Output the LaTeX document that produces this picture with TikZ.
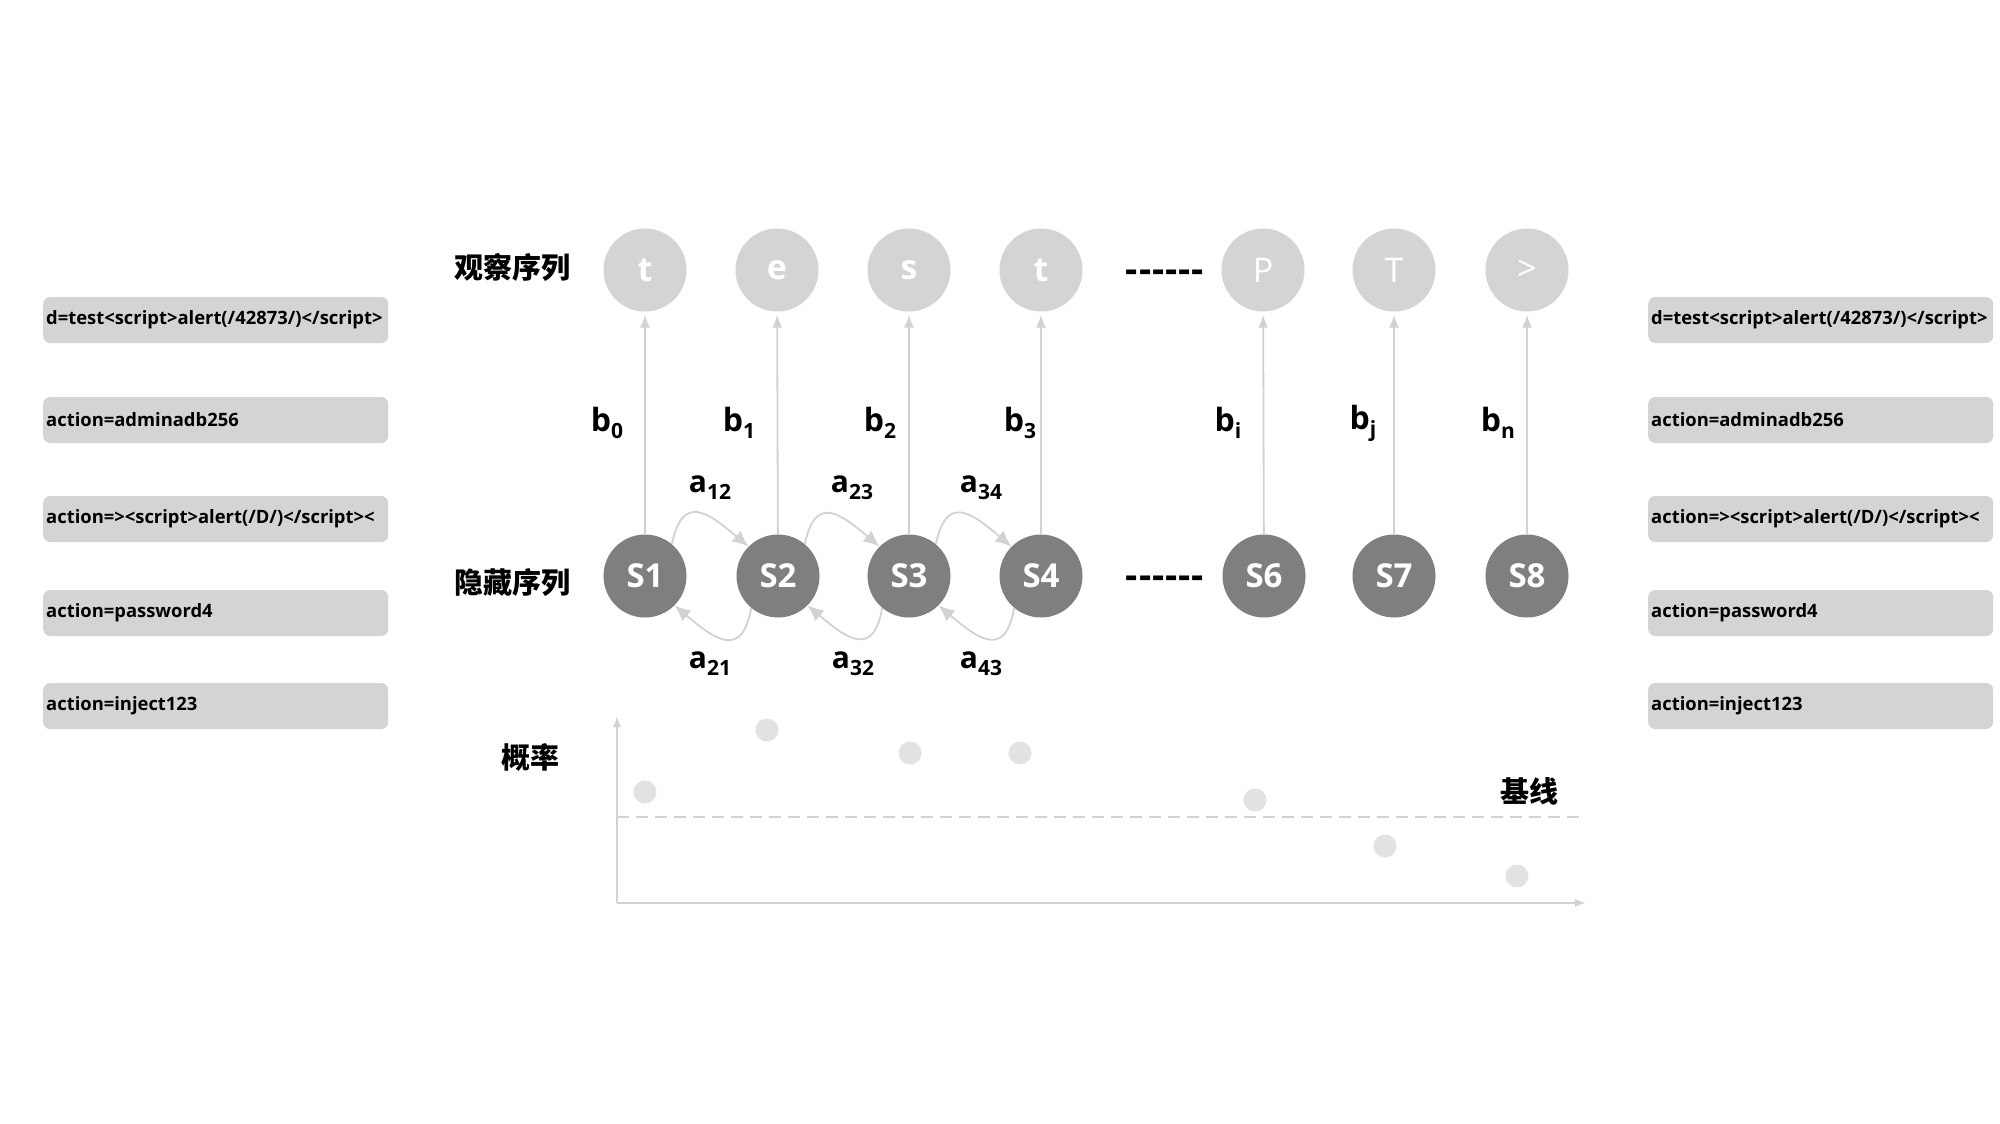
\documentclass[tikz,border=0pt]{standalone}
\usepackage{fontspec}
\setmainfont{Open Sans}
\newfontfamily\cjk{Noto Sans CJK SC}
\usetikzlibrary{arrows.meta}
\definecolor{obsc}{HTML}{D4D4D4}
\definecolor{hidc}{HTML}{7F7F7F}
\definecolor{linec}{HTML}{D2D2D2}
\definecolor{dotc}{HTML}{E2E2E2}
\definecolor{boxc}{HTML}{D4D4D4}
\newcommand\sbs[1]{\raisebox{-7pt}{\fontsize{21}{21}\selectfont #1}}
\newcommand\dsh{-\kern1pt-\kern1pt-\kern1pt-\kern1pt-\kern1pt-}
\begin{document}
\begin{tikzpicture}[x=1pt,y=-1pt,
  obsnode/.style={circle,fill=obsc,minimum size=83pt,inner sep=0pt,text=white,font=\fontsize{34}{34}\selectfont},
  hidnode/.style={circle,fill=hidc,minimum size=83pt,inner sep=0pt,text=white,font=\fontsize{33}{33}\selectfont\bfseries},
  varr/.style={draw=linec,line width=1.8pt,-{Latex[length=13pt,width=10pt]},shorten >=3pt},
  carr/.style={draw=linec,line width=1.8pt,-{Latex[length=16pt,width=14pt]}},
  cjklab/.style={font=\cjk\bfseries\fontsize{29}{29}\selectfont},
  blab/.style={font=\bfseries\fontsize{32}{32}\selectfont},
  alab/.style={font=\bfseries\fontsize{30}{30}\selectfont},
  pbox/.style={rectangle,rounded corners=7pt,fill=boxc,minimum width=345pt,minimum height=46pt,
    text width=339pt,align=left,inner xsep=3pt,anchor=west,font=\bfseries\fontsize{18.4}{18.4}\selectfont},
  pdot/.style={circle,fill=dotc,minimum size=23pt,inner sep=0pt},
  dashlab/.style={font=\bfseries\fontsize{38}{38}\selectfont}
]
\useasboundingbox[fill=white] (0,0) rectangle (2000,1124);

% observation nodes
\node[obsnode] (o1) at (645,270) {\bfseries t};
\node[obsnode] (o2) at (777,270) {\bfseries e};
\node[obsnode] (o3) at (909,270) {\bfseries s};
\node[obsnode] (o4) at (1041,270) {\bfseries t};
\node[obsnode] (o6) at (1263,270) {P};
\node[obsnode] (o7) at (1394,270) {T};
\node[obsnode] (o8) at (1527,270) {>};

% hidden nodes
\node[hidnode] (s1) at (645,576) {S1};
\node[hidnode] (s2) at (778,576) {S2};
\node[hidnode] (s3) at (909,576) {S3};
\node[hidnode] (s4) at (1041,576) {S4};
\node[hidnode] (s6) at (1264,576) {S6};
\node[hidnode] (s7) at (1394,576) {S7};
\node[hidnode] (s8) at (1527,576) {S8};

% row labels
\node[cjklab] (lobs) at (512,267) {观察序列};
\node[cjklab] (lhid) at (512,582) {隐藏序列};
\node[cjklab] (lprob) at (530,757) {概率};
\node[cjklab] (lbase) at (1529,791) {基线};

% dashes
\node[dashlab] (d1) at (1165,276) {\dsh};
\node[dashlab] (d2) at (1165,582) {\dsh};

% emission arrows
\foreach \i in {1,2,3,4,6,7,8} {\draw[varr] (s\i) -- (o\i);}

% b labels
\node[blab] (b0) at (607,423) {b\sbs{0}};
\node[blab] (b1) at (739,423) {b\sbs{1}};
\node[blab] (b2) at (880,423) {b\sbs{2}};
\node[blab] (b3) at (1020,423) {b\sbs{3}};
\node[blab] (bi) at (1228,423) {b\sbs{i}};
\node[blab] (bj) at (1363,423) {b\sbs{j}};
\node[blab] (bn) at (1498,423) {b\sbs{n}};

% transition arrows
\draw[carr] (s1.50) to[out=78,in=140,looseness=1.75] (s2.135);
\draw[carr] (s2.50) to[out=78,in=140,looseness=1.75] (s3.135);
\draw[carr] (s3.50) to[out=78,in=140,looseness=1.75] (s4.135);
\draw[carr] (s2.-130) to[out=-100,in=-40,looseness=1.75] (s1.-45);
\draw[carr] (s3.-130) to[out=-100,in=-40,looseness=1.75] (s2.-45);
\draw[carr] (s4.-130) to[out=-100,in=-40,looseness=1.75] (s3.-45);

% a labels
\node[alab] (a12) at (710,488) {a\sbs{12}};
\node[alab] (a23) at (852,488) {a\sbs{23}};
\node[alab] (a34) at (981,488) {a\sbs{34}};
\node[alab] (a21) at (710,664) {a\sbs{21}};
\node[alab] (a32) at (853,664) {a\sbs{32}};
\node[alab] (a43) at (981,664) {a\sbs{43}};

% left boxes
\node[pbox] (l1) at (43,320) {d=test<script>alert(/42873/)</script>};
\node[pbox] (l2) at (43,420) {action=adminadb256};
\node[pbox] (l3) at (43,519) {action=><script>alert(/D/)</script><};
\node[pbox] (l4) at (43,613) {action=password4};
\node[pbox] (l5) at (43,706) {action=inject123};

% right boxes
\node[pbox] (r1) at (1648,320) {d=test<script>alert(/42873/)</script>};
\node[pbox] (r2) at (1648,420) {action=adminadb256};
\node[pbox] (r3) at (1648,519) {action=><script>alert(/D/)</script><};
\node[pbox] (r4) at (1648,613) {action=password4};
\node[pbox] (r5) at (1648,706) {action=inject123};

% chart
\coordinate (org) at (617,903);
\coordinate (ytop) at (617,716);
\coordinate (xend) at (1586,903);
\coordinate (bl0) at (617,817);
\coordinate (bl1) at (1586,817);
\draw[draw=linec,line width=2pt,-{Latex[length=11pt,width=8pt]}] (org) -- (ytop);
\draw[draw=linec,line width=2pt,-{Latex[length=11pt,width=8pt]}] (org) -- (xend);
\draw[draw=linec,line width=2.5pt,dash pattern=on 12pt off 7pt] (bl0) -- (bl1);

\node[pdot] (p1) at (645,792) {};
\node[pdot] (p2) at (767,730) {};
\node[pdot] (p3) at (910,753) {};
\node[pdot] (p4) at (1020,753) {};
\node[pdot] (p6) at (1255,800) {};
\node[pdot] (p7) at (1385,846) {};
\node[pdot] (p8) at (1517,876) {};
\end{tikzpicture}
\end{document}
